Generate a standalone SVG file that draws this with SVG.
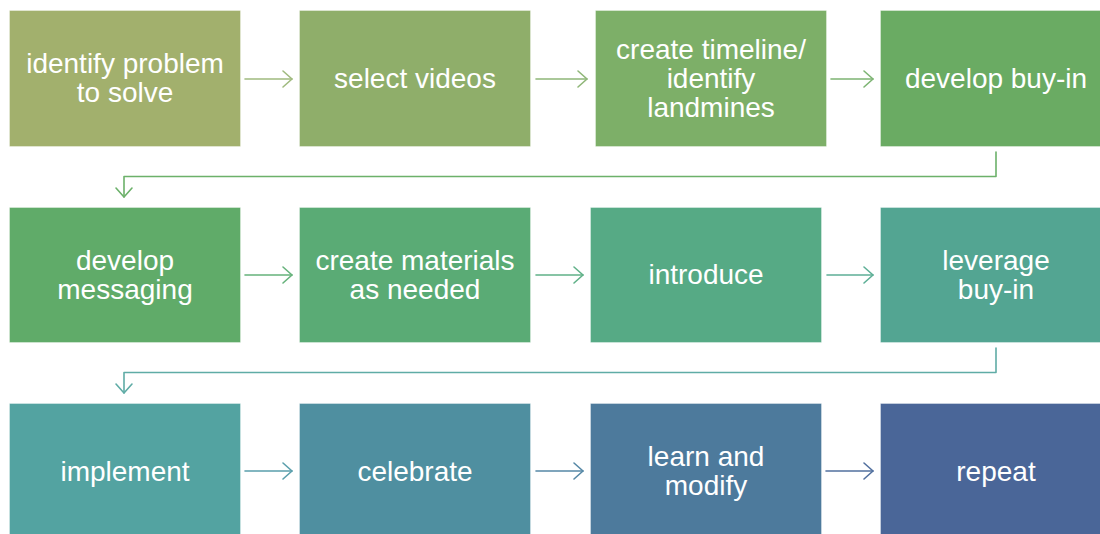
<svg xmlns="http://www.w3.org/2000/svg" width="1100" height="534" viewBox="0 0 1100 534">
  <defs>
    <style>
      .box { stroke: #ffffff; stroke-opacity: 0.35; stroke-width: 1; }
      .lbl { font-family: "Liberation Sans", Arial, sans-serif; font-size: 28px; fill: #ffffff; text-anchor: middle; }
      .conn { fill: none; stroke-width: 1.6; stroke-linecap: round; stroke-linejoin: round; }
      .head { fill: none; stroke-width: 1.6; stroke-linecap: round; stroke-linejoin: round; }
    </style>
  </defs>
  <rect width="1100" height="534" fill="#ffffff"/>

  <!-- row 1 -->
  <g id="node-identify-problem">
    <rect class="box" x="9.5" y="10.5" width="231" height="136" fill="#a2b06d"/>
    <text class="lbl" x="125" y="73">identify problem</text>
    <text class="lbl" x="125" y="102">to solve</text>
  </g>
  <g id="node-select-videos">
    <rect class="box" x="299.5" y="10.5" width="231" height="136" fill="#8fae6a"/>
    <text class="lbl" x="415" y="87.5">select videos</text>
  </g>
  <g id="node-create-timeline">
    <rect class="box" x="595.5" y="10.5" width="231" height="136" fill="#7daf68"/>
    <text class="lbl" x="711" y="59">create timeline/</text>
    <text class="lbl" x="711" y="88">identify</text>
    <text class="lbl" x="711" y="117">landmines</text>
  </g>
  <g id="node-develop-buy-in">
    <rect class="box" x="880.5" y="10.5" width="231" height="136" fill="#6aab63"/>
    <text class="lbl" x="996" y="87.5">develop buy-in</text>
  </g>

  <!-- row 2 -->
  <g id="node-develop-messaging">
    <rect class="box" x="9.5" y="207.5" width="231" height="135" fill="#60ab69"/>
    <text class="lbl" x="125" y="269.5">develop</text>
    <text class="lbl" x="125" y="298.5">messaging</text>
  </g>
  <g id="node-create-materials">
    <rect class="box" x="299.5" y="207.5" width="231" height="135" fill="#5aab75"/>
    <text class="lbl" x="415" y="269.5">create materials</text>
    <text class="lbl" x="415" y="298.5">as needed</text>
  </g>
  <g id="node-introduce">
    <rect class="box" x="590.5" y="207.5" width="231" height="135" fill="#56aa85"/>
    <text class="lbl" x="706" y="284">introduce</text>
  </g>
  <g id="node-leverage-buy-in">
    <rect class="box" x="880.5" y="207.5" width="231" height="135" fill="#53a592"/>
    <text class="lbl" x="996" y="269.5">leverage</text>
    <text class="lbl" x="996" y="298.5">buy-in</text>
  </g>

  <!-- row 3 -->
  <g id="node-implement">
    <rect class="box" x="9.5" y="403.5" width="231" height="136" fill="#53a3a1"/>
    <text class="lbl" x="125" y="480.5">implement</text>
  </g>
  <g id="node-celebrate">
    <rect class="box" x="299.5" y="403.5" width="231" height="136" fill="#4f8fa0"/>
    <text class="lbl" x="415" y="480.5">celebrate</text>
  </g>
  <g id="node-learn-modify">
    <rect class="box" x="590.5" y="403.5" width="231" height="136" fill="#4d7a9c"/>
    <text class="lbl" x="706" y="466">learn and</text>
    <text class="lbl" x="706" y="495">modify</text>
  </g>
  <g id="node-repeat">
    <rect class="box" x="880.5" y="403.5" width="231" height="136" fill="#4a6698"/>
    <text class="lbl" x="996" y="480.5">repeat</text>
  </g>

  <!-- connectors: straight line plus open chevron head -->
  <g id="connectors">
    <g stroke="#a0ba7f">
      <path class="conn" d="M245 79H292"/>
      <path class="head" d="M283 71L292 79L283 87"/>
    </g>
    <g stroke="#8fb678">
      <path class="conn" d="M536 79H587"/>
      <path class="head" d="M578 71L587 79L578 87"/>
    </g>
    <g stroke="#7db473">
      <path class="conn" d="M831 79H873"/>
      <path class="head" d="M864 71L873 79L864 87"/>
    </g>
    <g stroke="#6cb16a">
      <path class="conn" d="M996 152V176.5H124V197"/>
      <path class="head" d="M116 188L124 197L132 188"/>
    </g>

    <g stroke="#66b27b">
      <path class="conn" d="M245 275H292"/>
      <path class="head" d="M283 267L292 275L283 283"/>
    </g>
    <g stroke="#60b188">
      <path class="conn" d="M536 275H583"/>
      <path class="head" d="M574 267L583 275L574 283"/>
    </g>
    <g stroke="#5daf96">
      <path class="conn" d="M827 275H873"/>
      <path class="head" d="M864 267L873 275L864 283"/>
    </g>
    <g stroke="#5faca6">
      <path class="conn" d="M996 348V372.5H124V393"/>
      <path class="head" d="M116 384L124 393L132 384"/>
    </g>

    <g stroke="#5a9fac">
      <path class="conn" d="M245 471H292"/>
      <path class="head" d="M283 463L292 471L283 479"/>
    </g>
    <g stroke="#5688a6">
      <path class="conn" d="M536 471H583"/>
      <path class="head" d="M574 463L583 471L574 479"/>
    </g>
    <g stroke="#52709f">
      <path class="conn" d="M826 471H873"/>
      <path class="head" d="M864 463L873 471L864 479"/>
    </g>
  </g>
</svg>
